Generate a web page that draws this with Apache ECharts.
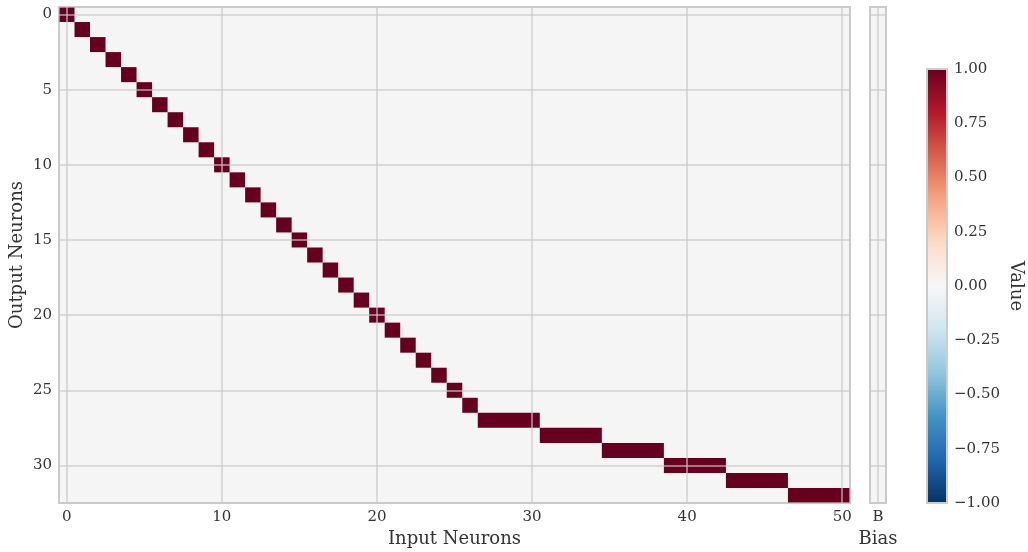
<!DOCTYPE html>
<html>
<head>
<meta charset="utf-8">
<script src="https://cdn.jsdelivr.net/npm/echarts@6/dist/echarts.min.js"></script>
<style>
  html, body { margin: 0; padding: 0; background: #fff; }
  #chart { width: 1028px; height: 552px; }
</style>
</head>
<body>
<div id="chart"></div>
<script>
// each output neuron connects to a run of input neurons [start, end]
const outputRows = [0, 1, 2, 3, 4, 5, 6, 7, 8, 9, 10, 11, 12, 13, 14, 15, 16, 17, 18, 19, 20, 21, 22, 23, 24, 25, 26, 27, 28, 29, 30, 31, 32]
const rowStart = [0, 1, 2, 3, 4, 5, 6, 7, 8, 9, 10, 11, 12, 13, 14, 15, 16, 17, 18, 19, 20, 21, 22, 23, 24, 25, 26, 27, 31, 35, 39, 43, 47]
const rowEnd = [0, 1, 2, 3, 4, 5, 6, 7, 8, 9, 10, 11, 12, 13, 14, 15, 16, 17, 18, 19, 20, 21, 22, 23, 24, 25, 26, 30, 34, 38, 42, 46, 50]
const rowValue = [1, 1, 1, 1, 1, 1, 1, 1, 1, 1, 1, 1, 1, 1, 1, 1, 1, 1, 1, 1, 1, 1, 1, 1, 1, 1, 1, 1, 1, 1, 1, 1, 1]
const biasValue = [0, 0, 0, 0, 0, 0, 0, 0, 0, 0, 0, 0, 0, 0, 0, 0, 0, 0, 0, 0, 0, 0, 0, 0, 0, 0, 0, 0, 0, 0, 0, 0, 0]
const colorTicks = [-1, -0.75, -0.5, -0.25, 0, 0.25, 0.5, 0.75, 1]

// RdBu_r, low -> high
const rdbu = ['#053061', '#2166ac', '#4393c3', '#92c5de', '#d1e5f0', '#f7f7f7',
  '#fddbc7', '#f4a582', '#d6604d', '#b2182b', '#67001f']

const FONT = 'DejaVu Serif'
const TXT = '#333'
const TICK_SIZE = 15
const NAME_SIZE = 18
const GRID_LINE = { show: true, lineStyle: { color: 'rgba(200,200,200,0.8)', width: 1.5 } }

const cells = outputRows
  .map((r, i) => [rowStart[i], rowEnd[i], r, rowValue[i]])
  .filter((d) => d[3] !== 0)
const biasCells = outputRows
  .map((r, i) => [0, 0, r, biasValue[i]])
  .filter((d) => d[3] !== 0)

function spanRect(params, api) {
  const a = api.coord([api.value(0) - 0.5, api.value(2) - 0.5])
  const b = api.coord([api.value(1) + 0.5, api.value(2) + 0.5])
  return {
    type: 'rect',
    shape: {
      x: Math.min(a[0], b[0]),
      y: Math.min(a[1], b[1]),
      width: Math.abs(b[0] - a[0]),
      height: Math.abs(b[1] - a[1]),
    },
    style: { fill: api.visual('color') },
  }
}

const intLabel = (v) => (Number.isInteger(v) ? String(v) : '')
const tickStyle = { color: TXT, fontSize: TICK_SIZE, fontFamily: FONT, margin: 7 }
const nameStyle = { color: TXT, fontSize: NAME_SIZE, fontFamily: FONT }
const gridBase = { show: true, borderColor: '#cccccc', borderWidth: 2, outerBoundsMode: 'none', containLabel: false }

const chart = echarts.init(document.getElementById('chart'))
chart.setOption({
  backgroundColor: '#fff',
  animation: false,
  textStyle: { fontFamily: FONT },
  grid: [
    { ...gridBase, left: 59, top: 7, width: 791, height: 496, backgroundColor: '#f5f5f5' },
    { ...gridBase, left: 870, top: 7, width: 16, height: 496, backgroundColor: '#f5f5f5' },
    { ...gridBase, left: 927, top: 69, width: 20, height: 434, backgroundColor: 'transparent' },
  ],
  visualMap: {
    show: false,
    seriesIndex: [0, 1],
    dimension: 3,
    min: -1,
    max: 1,
    inRange: { color: rdbu },
  },
  xAxis: [
    {
      gridIndex: 0, type: 'value', min: -0.5, max: 50.5, splitNumber: 5, z: 5,
      axisLine: { show: false }, axisTick: { show: false },
      axisLabel: { ...tickStyle, formatter: intLabel },
      splitLine: GRID_LINE,
      name: 'Input Neurons', nameLocation: 'middle', nameGap: 26,
      nameTextStyle: nameStyle,
    },
    {
      gridIndex: 1, type: 'value', min: -0.5, max: 0.5, interval: 0.5, z: 5,
      axisLine: { show: false }, axisTick: { show: false },
      axisLabel: { ...tickStyle, formatter: (v) => (v === 0 ? 'B' : '') },
      splitLine: GRID_LINE,
      name: 'Bias', nameLocation: 'middle', nameGap: 26,
      nameTextStyle: nameStyle,
    },
    { gridIndex: 2, type: 'value', min: 0, max: 1, show: false },
  ],
  yAxis: [
    {
      gridIndex: 0, type: 'value', inverse: true, min: -0.5, max: 32.5, splitNumber: 5, z: 5,
      axisLine: { show: false }, axisTick: { show: false },
      axisLabel: { ...tickStyle, formatter: intLabel },
      splitLine: GRID_LINE,
      name: 'Output Neurons', nameLocation: 'middle', nameGap: 33, nameMoveOverlap: false,
      nameTextStyle: nameStyle,
    },
    {
      gridIndex: 1, type: 'value', inverse: true, min: -0.5, max: 32.5, splitNumber: 5, z: 5,
      axisLine: { show: false }, axisTick: { show: false },
      axisLabel: { show: false },
      splitLine: GRID_LINE,
    },
    {
      gridIndex: 2, type: 'value', position: 'right', min: -1, max: 1, interval: 0.25,
      axisLine: { show: false }, axisTick: { show: false },
      axisLabel: {
        ...tickStyle,
        formatter: (v) => (v < 0 ? '\u2212' + Math.abs(v).toFixed(2) : v.toFixed(2)),
        customValues: colorTicks,
      },
      splitLine: { show: false },
      name: 'Value', nameLocation: 'middle', nameGap: 60, nameRotate: -90,
      nameTextStyle: nameStyle,
    },
  ],
  series: [
    {
      type: 'custom', xAxisIndex: 0, yAxisIndex: 0,
      renderItem: spanRect,
      encode: { x: [0, 1], y: 2 },
      data: cells,
    },
    {
      type: 'custom', xAxisIndex: 1, yAxisIndex: 1,
      renderItem: spanRect,
      encode: { x: [0, 1], y: 2 },
      data: biasCells,
    },
    {
      type: 'custom', xAxisIndex: 2, yAxisIndex: 2,
      encode: { x: 0, y: 1 },
      data: [[0, -1]],
      renderItem: (params, api) => {
        const a = api.coord([0, 1])
        const b = api.coord([1, -1])
        const stops = rdbu.map((c, i) => ({ offset: 1 - i / (rdbu.length - 1), color: c })).reverse()
        return {
          type: 'rect',
          shape: { x: a[0], y: a[1], width: b[0] - a[0], height: b[1] - a[1] },
          style: {
            fill: new echarts.graphic.LinearGradient(0, 0, 0, 1, stops),
            stroke: '#cccccc',
            lineWidth: 2,
          },
        }
      },
    },
  ],
})
</script>
</body>
</html>
